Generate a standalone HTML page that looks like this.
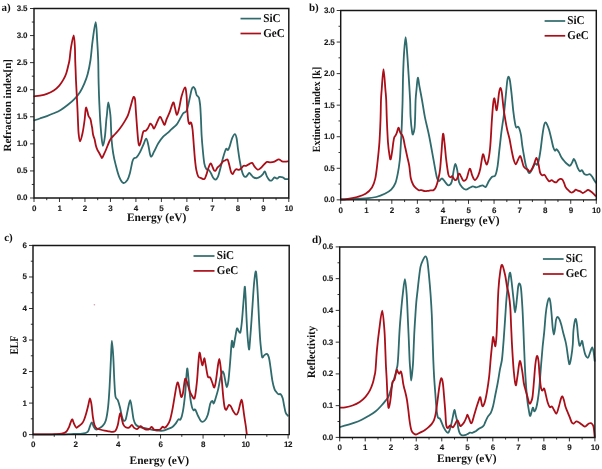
<!DOCTYPE html>
<html><head><meta charset="utf-8"><style>
html,body{margin:0;padding:0;background:#fff;}
svg{display:block;will-change:transform;text-rendering:geometricPrecision;}
.tk{stroke:#2a2a2a;stroke-width:0.95;}
.fr{fill:none;stroke:#161616;stroke-width:1.45;stroke-linejoin:miter;}
.tl{font-family:"Liberation Sans",sans-serif;font-weight:bold;font-size:8px;fill:#1a1a1a;stroke:#1a1a1a;stroke-width:0.1px;letter-spacing:-0.25px;}
.lt{font-family:"Liberation Serif",serif;font-weight:bold;font-size:12px;fill:#111;}
.at{font-family:"Liberation Serif",serif;font-weight:bold;font-size:11.45px;fill:#111;}
.yt{font-family:"Liberation Serif",serif;font-weight:bold;font-size:11px;fill:#111;}
.pl{font-family:"Liberation Serif",serif;font-weight:bold;font-size:11px;fill:#111;}
.cv{stroke-width:1.8;stroke-linejoin:round;stroke-linecap:round;}
.lg{stroke-width:1.7;}
</style></head><body>
<svg width="602" height="469" viewBox="0 0 602 469">
<path d="M34.40,120.30 C35.32,120.00 37.82,119.20 39.90,118.50 C41.98,117.80 44.58,116.97 46.90,116.10 C49.22,115.23 51.50,114.33 53.80,113.30 C56.10,112.27 58.40,111.28 60.70,109.90 C63.00,108.52 65.28,106.85 67.60,105.00 C69.92,103.15 72.52,100.98 74.60,98.80 C76.68,96.62 78.48,94.43 80.10,91.90 C81.72,89.37 83.03,86.60 84.30,83.60 C85.57,80.60 86.67,77.83 87.70,73.90 C88.73,69.97 89.68,65.50 90.50,60.00 C91.32,54.50 91.73,47.20 92.60,40.90 C93.47,34.60 94.93,22.20 95.70,22.20 C96.47,22.20 96.78,34.60 97.20,40.90 C97.62,47.20 97.98,53.88 98.20,60.00 C98.42,66.12 98.37,71.73 98.50,77.60 C98.63,83.47 98.77,88.97 99.00,95.20 C99.23,101.43 99.63,109.87 99.90,115.00 C100.17,120.13 100.33,122.40 100.60,126.00 C100.87,129.60 101.12,133.30 101.50,136.60 C101.88,139.90 102.33,145.80 102.90,145.80 C103.47,145.80 104.33,140.90 104.90,136.60 C105.47,132.30 105.97,123.60 106.30,120.00 C106.63,116.40 106.57,117.95 106.90,115.00 C107.23,112.05 107.72,102.30 108.30,102.30 C108.88,102.30 109.95,110.88 110.40,115.00 C110.85,119.12 110.80,122.83 111.00,127.00 C111.20,131.17 111.23,135.62 111.60,140.00 C111.97,144.38 112.52,149.15 113.20,153.30 C113.88,157.45 114.72,161.02 115.70,164.90 C116.68,168.78 117.85,173.60 119.10,176.60 C120.35,179.60 121.82,182.35 123.20,182.90 C124.58,183.45 126.28,181.52 127.40,179.90 C128.52,178.28 129.07,176.25 129.90,173.20 C130.73,170.15 131.72,164.08 132.40,161.60 C133.08,159.12 133.32,159.00 134.00,158.30 C134.68,157.60 135.52,158.38 136.50,157.40 C137.48,156.42 138.77,154.48 139.90,152.40 C141.03,150.32 142.25,147.20 143.30,144.90 C144.35,142.60 145.37,138.60 146.20,138.60 C147.03,138.60 147.53,141.92 148.30,144.90 C149.07,147.88 149.83,155.40 150.80,156.50 C151.77,157.60 152.85,153.72 154.10,151.50 C155.35,149.28 156.78,145.68 158.30,143.20 C159.82,140.72 161.68,138.27 163.20,136.60 C164.72,134.93 166.00,134.45 167.40,133.20 C168.80,131.95 170.07,130.53 171.60,129.10 C173.13,127.67 175.22,126.27 176.60,124.60 C177.98,122.93 178.80,120.98 179.90,119.10 C181.00,117.22 182.10,114.68 183.20,113.30 C184.30,111.92 185.53,112.75 186.50,110.80 C187.47,108.85 188.17,105.07 189.00,101.60 C189.83,98.13 190.80,92.43 191.50,90.00 C192.20,87.57 192.62,87.17 193.20,87.00 C193.78,86.83 194.53,88.03 195.00,89.00 C195.47,89.97 195.70,91.73 196.00,92.80 C196.30,93.87 196.48,94.82 196.80,95.40 C197.12,95.98 197.55,95.93 197.90,96.30 C198.25,96.67 198.63,96.90 198.90,97.60 C199.17,98.30 199.28,99.17 199.50,100.50 C199.72,101.83 200.02,103.68 200.20,105.60 C200.38,107.52 200.47,109.60 200.60,112.00 C200.73,114.40 200.83,116.17 201.00,120.00 C201.17,123.83 201.30,130.00 201.60,135.00 C201.90,140.00 202.35,145.28 202.80,150.00 C203.25,154.72 203.72,160.12 204.30,163.30 C204.88,166.48 205.55,168.00 206.30,169.10 C207.05,170.20 208.02,169.22 208.80,169.90 C209.58,170.58 210.30,171.95 211.00,173.20 C211.70,174.45 212.25,176.33 213.00,177.40 C213.75,178.47 214.67,179.73 215.50,179.60 C216.33,179.47 217.18,178.48 218.00,176.60 C218.82,174.72 219.58,171.35 220.40,168.30 C221.22,165.25 221.98,161.50 222.90,158.30 C223.82,155.10 225.07,150.48 225.90,149.10 C226.73,147.72 227.28,150.42 227.90,150.00 C228.52,149.58 228.90,148.55 229.60,146.60 C230.30,144.65 231.22,140.38 232.10,138.30 C232.98,136.22 234.15,134.10 234.90,134.10 C235.65,134.10 236.10,135.93 236.60,138.30 C237.10,140.67 237.40,144.70 237.90,148.30 C238.40,151.90 238.98,156.30 239.60,159.90 C240.22,163.50 240.92,167.27 241.60,169.90 C242.28,172.53 242.93,174.58 243.70,175.70 C244.47,176.82 245.28,177.07 246.20,176.60 C247.12,176.13 248.37,173.18 249.20,172.90 C250.03,172.62 250.45,174.15 251.20,174.90 C251.95,175.65 252.73,176.85 253.70,177.40 C254.67,177.95 255.88,178.33 257.00,178.20 C258.12,178.07 259.42,177.28 260.40,176.60 C261.38,175.92 262.15,174.93 262.90,174.10 C263.65,173.27 264.22,171.18 264.90,171.60 C265.58,172.02 266.23,175.17 267.00,176.60 C267.77,178.03 268.67,179.60 269.50,180.20 C270.33,180.80 271.17,180.67 272.00,180.20 C272.83,179.73 273.67,177.67 274.50,177.40 C275.33,177.13 276.17,178.68 277.00,178.60 C277.83,178.52 278.53,177.10 279.50,176.90 C280.47,176.70 281.83,177.03 282.80,177.40 C283.77,177.77 284.43,178.82 285.30,179.10 C286.17,179.38 287.55,179.10 288.00,179.10" fill="none" stroke="#2f6a6c" class="cv"/>
<path d="M34.40,96.30 C35.32,96.20 37.82,96.10 39.90,95.70 C41.98,95.30 44.58,94.77 46.90,93.90 C49.22,93.03 51.73,91.88 53.80,90.50 C55.87,89.12 57.68,87.45 59.30,85.60 C60.92,83.75 62.33,81.47 63.50,79.40 C64.67,77.33 65.50,75.52 66.30,73.20 C67.10,70.88 67.77,67.70 68.30,65.50 C68.83,63.30 69.05,62.98 69.50,60.00 C69.95,57.02 70.30,51.72 71.00,47.60 C71.70,43.48 73.05,35.30 73.70,35.30 C74.35,35.30 74.65,43.48 74.90,47.60 C75.15,51.72 75.08,56.27 75.20,60.00 C75.32,63.73 75.47,66.53 75.60,70.00 C75.73,73.47 75.83,77.13 76.00,80.80 C76.17,84.47 76.42,88.53 76.60,92.00 C76.78,95.47 76.93,98.27 77.10,101.60 C77.27,104.93 77.45,108.60 77.60,112.00 C77.75,115.40 77.83,118.45 78.00,122.00 C78.17,125.55 78.27,130.08 78.60,133.30 C78.93,136.52 79.35,141.30 80.00,141.30 C80.65,141.30 81.73,136.85 82.50,133.30 C83.27,129.75 84.12,123.63 84.60,120.00 C85.08,116.37 85.13,113.60 85.40,111.50 C85.67,109.40 85.85,107.35 86.20,107.40 C86.55,107.45 87.15,110.50 87.50,111.80 C87.85,113.10 88.05,114.35 88.30,115.20 C88.55,116.05 88.70,116.37 89.00,116.90 C89.30,117.43 89.80,117.80 90.10,118.40 C90.40,119.00 90.58,119.57 90.80,120.50 C91.02,121.43 91.17,122.75 91.40,124.00 C91.63,125.25 91.92,126.20 92.20,128.00 C92.48,129.80 92.70,132.92 93.10,134.80 C93.50,136.68 94.15,137.57 94.60,139.30 C95.05,141.03 95.35,143.47 95.80,145.20 C96.25,146.93 96.75,148.45 97.30,149.70 C97.85,150.95 98.48,151.58 99.10,152.70 C99.72,153.82 100.50,155.53 101.00,156.40 C101.50,157.27 101.60,158.27 102.10,157.90 C102.60,157.53 103.30,155.68 104.00,154.20 C104.70,152.72 105.42,151.12 106.30,149.00 C107.18,146.88 108.43,143.37 109.30,141.50 C110.17,139.63 110.52,139.05 111.50,137.80 C112.48,136.55 113.83,135.50 115.20,134.00 C116.57,132.50 118.20,130.78 119.70,128.80 C121.20,126.82 122.83,124.33 124.20,122.10 C125.57,119.87 126.83,118.00 127.90,115.40 C128.97,112.80 129.70,109.48 130.60,106.50 C131.50,103.52 132.57,98.73 133.30,97.50 C134.03,96.27 134.58,97.02 135.00,99.10 C135.42,101.18 135.47,105.42 135.80,110.00 C136.13,114.58 136.58,121.33 137.00,126.60 C137.42,131.87 137.88,138.45 138.30,141.60 C138.72,144.75 139.00,145.78 139.50,145.50 C140.00,145.22 140.67,142.22 141.30,139.90 C141.93,137.58 142.55,133.13 143.30,131.60 C144.05,130.07 145.03,131.25 145.80,130.70 C146.57,130.15 147.15,129.48 147.90,128.30 C148.65,127.12 149.55,124.02 150.30,123.60 C151.05,123.18 151.77,124.97 152.40,125.80 C153.03,126.63 153.40,129.02 154.10,128.60 C154.80,128.18 155.63,125.25 156.60,123.30 C157.57,121.35 158.93,117.32 159.90,116.90 C160.87,116.48 161.62,119.47 162.40,120.80 C163.18,122.13 163.90,125.18 164.60,124.90 C165.30,124.62 165.72,121.32 166.60,119.10 C167.48,116.88 168.80,114.37 169.90,111.60 C171.00,108.83 172.37,103.18 173.20,102.50 C174.03,101.82 174.28,105.43 174.90,107.50 C175.52,109.57 176.20,114.77 176.90,114.90 C177.60,115.03 178.33,111.35 179.10,108.30 C179.87,105.25 180.53,100.07 181.50,96.60 C182.47,93.13 184.07,87.77 184.90,87.50 C185.73,87.23 186.10,91.25 186.50,95.00 C186.90,98.75 187.00,105.67 187.30,110.00 C187.60,114.33 187.93,118.67 188.30,121.00 C188.67,123.33 189.05,123.75 189.50,124.00 C189.95,124.25 190.50,121.67 191.00,122.50 C191.50,123.33 192.03,125.25 192.50,129.00 C192.97,132.75 193.38,139.85 193.80,145.00 C194.22,150.15 194.58,155.75 195.00,159.90 C195.42,164.05 195.75,167.12 196.30,169.90 C196.85,172.68 197.47,175.22 198.30,176.60 C199.13,177.98 200.30,177.78 201.30,178.20 C202.30,178.62 203.47,179.65 204.30,179.10 C205.13,178.55 205.63,176.70 206.30,174.90 C206.97,173.10 207.60,170.18 208.30,168.30 C209.00,166.42 209.87,164.02 210.50,163.60 C211.13,163.18 211.55,164.75 212.10,165.80 C212.65,166.85 213.23,169.08 213.80,169.90 C214.37,170.72 214.87,171.12 215.50,170.70 C216.13,170.28 216.78,168.37 217.60,167.40 C218.42,166.43 219.52,165.87 220.40,164.90 C221.28,163.93 222.07,162.37 222.90,161.60 C223.73,160.83 224.62,160.63 225.40,160.30 C226.18,159.97 226.95,158.83 227.60,159.60 C228.25,160.37 228.75,162.90 229.30,164.90 C229.85,166.90 230.35,170.07 230.90,171.60 C231.45,173.13 231.98,174.25 232.60,174.10 C233.22,173.95 233.93,171.53 234.60,170.70 C235.27,169.87 235.92,169.23 236.60,169.10 C237.28,168.97 237.93,170.03 238.70,169.90 C239.47,169.77 240.37,168.98 241.20,168.30 C242.03,167.62 242.87,166.22 243.70,165.80 C244.53,165.38 245.28,166.08 246.20,165.80 C247.12,165.52 248.22,164.58 249.20,164.10 C250.18,163.62 251.20,162.48 252.10,162.90 C253.00,163.32 253.68,165.48 254.60,166.60 C255.52,167.72 256.63,169.32 257.60,169.60 C258.57,169.88 259.38,169.08 260.40,168.30 C261.42,167.52 262.60,165.97 263.70,164.90 C264.80,163.83 265.88,162.32 267.00,161.90 C268.12,161.48 269.15,162.45 270.40,162.40 C271.65,162.35 273.12,162.10 274.50,161.60 C275.88,161.10 277.45,159.45 278.70,159.40 C279.95,159.35 280.90,160.93 282.00,161.30 C283.10,161.67 284.30,161.60 285.30,161.60 C286.30,161.60 287.55,161.35 288.00,161.30" fill="none" stroke="#aa0f19" class="cv"/>
<line x1="34.00" y1="198.00" x2="34.00" y2="202.00" class="tk"/>
<text x="34.00" y="210.60" class="tl" text-anchor="middle">0</text>
<line x1="46.74" y1="198.00" x2="46.74" y2="200.20" class="tk"/>
<line x1="59.48" y1="198.00" x2="59.48" y2="202.00" class="tk"/>
<text x="59.48" y="210.60" class="tl" text-anchor="middle">1</text>
<line x1="72.22" y1="198.00" x2="72.22" y2="200.20" class="tk"/>
<line x1="84.96" y1="198.00" x2="84.96" y2="202.00" class="tk"/>
<text x="84.96" y="210.60" class="tl" text-anchor="middle">2</text>
<line x1="97.70" y1="198.00" x2="97.70" y2="200.20" class="tk"/>
<line x1="110.44" y1="198.00" x2="110.44" y2="202.00" class="tk"/>
<text x="110.44" y="210.60" class="tl" text-anchor="middle">3</text>
<line x1="123.18" y1="198.00" x2="123.18" y2="200.20" class="tk"/>
<line x1="135.92" y1="198.00" x2="135.92" y2="202.00" class="tk"/>
<text x="135.92" y="210.60" class="tl" text-anchor="middle">4</text>
<line x1="148.66" y1="198.00" x2="148.66" y2="200.20" class="tk"/>
<line x1="161.40" y1="198.00" x2="161.40" y2="202.00" class="tk"/>
<text x="161.40" y="210.60" class="tl" text-anchor="middle">5</text>
<line x1="174.14" y1="198.00" x2="174.14" y2="200.20" class="tk"/>
<line x1="186.88" y1="198.00" x2="186.88" y2="202.00" class="tk"/>
<text x="186.88" y="210.60" class="tl" text-anchor="middle">6</text>
<line x1="199.62" y1="198.00" x2="199.62" y2="200.20" class="tk"/>
<line x1="212.36" y1="198.00" x2="212.36" y2="202.00" class="tk"/>
<text x="212.36" y="210.60" class="tl" text-anchor="middle">7</text>
<line x1="225.10" y1="198.00" x2="225.10" y2="200.20" class="tk"/>
<line x1="237.84" y1="198.00" x2="237.84" y2="202.00" class="tk"/>
<text x="237.84" y="210.60" class="tl" text-anchor="middle">8</text>
<line x1="250.58" y1="198.00" x2="250.58" y2="200.20" class="tk"/>
<line x1="263.32" y1="198.00" x2="263.32" y2="202.00" class="tk"/>
<text x="263.32" y="210.60" class="tl" text-anchor="middle">9</text>
<line x1="276.06" y1="198.00" x2="276.06" y2="200.20" class="tk"/>
<line x1="288.80" y1="198.00" x2="288.80" y2="202.00" class="tk"/>
<text x="288.80" y="210.60" class="tl" text-anchor="middle">10</text>
<line x1="34.00" y1="198.00" x2="30.00" y2="198.00" class="tk"/>
<text x="27.15" y="200.45" class="tl" text-anchor="end">0.0</text>
<line x1="34.00" y1="184.46" x2="31.80" y2="184.46" class="tk"/>
<line x1="34.00" y1="170.93" x2="30.00" y2="170.93" class="tk"/>
<text x="27.15" y="173.38" class="tl" text-anchor="end">0.5</text>
<line x1="34.00" y1="157.39" x2="31.80" y2="157.39" class="tk"/>
<line x1="34.00" y1="143.86" x2="30.00" y2="143.86" class="tk"/>
<text x="27.15" y="146.31" class="tl" text-anchor="end">1.0</text>
<line x1="34.00" y1="130.32" x2="31.80" y2="130.32" class="tk"/>
<line x1="34.00" y1="116.79" x2="30.00" y2="116.79" class="tk"/>
<text x="27.15" y="119.24" class="tl" text-anchor="end">1.5</text>
<line x1="34.00" y1="103.25" x2="31.80" y2="103.25" class="tk"/>
<line x1="34.00" y1="89.71" x2="30.00" y2="89.71" class="tk"/>
<text x="27.15" y="92.16" class="tl" text-anchor="end">2.0</text>
<line x1="34.00" y1="76.18" x2="31.80" y2="76.18" class="tk"/>
<line x1="34.00" y1="62.64" x2="30.00" y2="62.64" class="tk"/>
<text x="27.15" y="65.09" class="tl" text-anchor="end">2.5</text>
<line x1="34.00" y1="49.11" x2="31.80" y2="49.11" class="tk"/>
<line x1="34.00" y1="35.57" x2="30.00" y2="35.57" class="tk"/>
<text x="27.15" y="38.02" class="tl" text-anchor="end">3.0</text>
<line x1="34.00" y1="22.04" x2="31.80" y2="22.04" class="tk"/>
<line x1="34.00" y1="8.50" x2="30.00" y2="8.50" class="tk"/>
<text x="27.15" y="10.95" class="tl" text-anchor="end">3.5</text>
<path d="M34.00,8.50 H288.80 V198.00 H34.00 Z" class="fr"/>
<path d="M341.00,199.50 C342.62,199.43 346.60,199.27 350.70,199.10 C354.80,198.93 361.35,198.85 365.60,198.50 C369.85,198.15 373.00,197.78 376.20,197.00 C379.40,196.22 382.30,195.03 384.80,193.80 C387.30,192.57 389.43,191.37 391.20,189.60 C392.97,187.83 394.27,186.05 395.40,183.20 C396.53,180.35 397.27,176.37 398.00,172.50 C398.73,168.63 399.38,163.75 399.80,160.00 C400.22,156.25 400.27,153.67 400.50,150.00 C400.73,146.33 400.98,142.17 401.20,138.00 C401.42,133.83 401.62,129.67 401.80,125.00 C401.98,120.33 402.17,114.17 402.30,110.00 C402.43,105.83 402.47,105.87 402.60,100.00 C402.73,94.13 402.85,82.73 403.10,74.80 C403.35,66.87 403.68,58.67 404.10,52.40 C404.52,46.13 405.10,37.20 405.60,37.20 C406.10,37.20 406.60,46.13 407.10,52.40 C407.60,58.67 408.10,66.87 408.60,74.80 C409.10,82.73 409.77,92.97 410.10,100.00 C410.43,107.03 410.27,111.67 410.60,117.00 C410.93,122.33 411.68,129.15 412.10,132.00 C412.52,134.85 412.68,134.82 413.10,134.10 C413.52,133.38 414.25,130.88 414.60,127.70 C414.95,124.52 415.03,119.62 415.20,115.00 C415.37,110.38 415.38,104.22 415.60,100.00 C415.82,95.78 416.13,93.40 416.50,89.70 C416.87,86.00 417.30,78.30 417.80,77.80 C418.30,77.30 418.80,83.00 419.50,86.70 C420.20,90.40 421.10,94.93 422.00,100.00 C422.90,105.07 423.70,111.07 424.90,117.10 C426.10,123.13 427.77,129.10 429.20,136.20 C430.63,143.30 432.25,152.93 433.50,159.70 C434.75,166.47 435.82,173.25 436.70,176.80 C437.58,180.35 437.92,180.72 438.80,181.00 C439.68,181.28 440.93,178.32 442.00,178.50 C443.07,178.68 444.13,180.97 445.20,182.10 C446.27,183.23 447.33,185.30 448.40,185.30 C449.47,185.30 450.72,184.58 451.60,182.10 C452.48,179.62 453.07,173.42 453.70,170.40 C454.33,167.38 454.80,164.00 455.40,164.00 C456.00,164.00 456.70,167.38 457.30,170.40 C457.90,173.42 458.18,179.27 459.00,182.10 C459.82,184.93 461.05,186.15 462.20,187.40 C463.35,188.65 464.65,189.53 465.90,189.60 C467.15,189.67 468.53,188.33 469.70,187.80 C470.87,187.27 471.83,186.47 472.90,186.40 C473.97,186.33 475.03,187.40 476.10,187.40 C477.17,187.40 478.23,186.75 479.30,186.40 C480.37,186.05 481.43,185.20 482.50,185.30 C483.57,185.40 484.63,187.72 485.70,187.00 C486.77,186.28 487.83,182.70 488.90,181.00 C489.97,179.30 491.03,177.73 492.10,176.80 C493.17,175.87 494.38,177.18 495.30,175.40 C496.22,173.62 496.93,170.22 497.60,166.10 C498.27,161.98 498.73,155.82 499.30,150.70 C499.87,145.58 500.48,139.68 501.00,135.40 C501.52,131.12 501.92,128.47 502.40,125.00 C502.88,121.53 503.37,119.18 503.90,114.60 C504.43,110.02 505.03,103.18 505.60,97.50 C506.17,91.82 506.82,83.98 507.30,80.50 C507.78,77.02 508.07,76.60 508.50,76.60 C508.93,76.60 509.38,77.58 509.90,80.50 C510.42,83.42 511.03,88.98 511.60,94.10 C512.17,99.22 512.73,106.37 513.30,111.20 C513.87,116.03 514.52,120.40 515.00,123.10 C515.48,125.80 515.72,126.82 516.20,127.40 C516.68,127.98 517.40,126.45 517.90,126.60 C518.40,126.75 518.68,126.88 519.20,128.30 C519.72,129.72 520.48,132.22 521.00,135.10 C521.52,137.98 521.75,141.87 522.30,145.60 C522.85,149.33 523.68,154.08 524.30,157.50 C524.92,160.92 525.33,163.68 526.00,166.10 C526.67,168.52 527.63,170.87 528.30,172.00 C528.97,173.13 529.30,173.47 530.00,172.90 C530.70,172.33 531.65,170.17 532.50,168.60 C533.35,167.03 534.30,164.15 535.10,163.50 C535.90,162.85 536.65,165.42 537.30,164.70 C537.95,163.98 538.43,161.82 539.00,159.20 C539.57,156.58 540.13,152.97 540.70,149.00 C541.27,145.03 541.83,139.38 542.40,135.40 C542.97,131.42 543.58,127.27 544.10,125.10 C544.62,122.93 545.02,122.53 545.50,122.40 C545.98,122.27 546.38,123.00 547.00,124.30 C547.62,125.60 548.48,127.78 549.20,130.20 C549.92,132.62 550.62,135.95 551.30,138.80 C551.98,141.65 552.68,145.32 553.30,147.30 C553.92,149.28 554.43,150.37 555.00,150.70 C555.57,151.03 556.03,149.02 556.70,149.30 C557.37,149.58 558.20,151.03 559.00,152.40 C559.80,153.77 560.52,155.93 561.50,157.50 C562.48,159.07 563.90,160.67 564.90,161.80 C565.90,162.93 566.65,163.65 567.50,164.30 C568.35,164.95 569.23,165.98 570.00,165.70 C570.77,165.42 571.47,163.73 572.10,162.60 C572.73,161.47 573.23,159.03 573.80,158.90 C574.37,158.77 574.85,160.32 575.50,161.80 C576.15,163.28 576.97,166.23 577.70,167.80 C578.43,169.37 579.18,170.78 579.90,171.20 C580.62,171.62 581.23,169.80 582.00,170.30 C582.77,170.80 583.65,173.43 584.50,174.20 C585.35,174.97 586.23,174.90 587.10,174.90 C587.97,174.90 588.90,173.97 589.70,174.20 C590.50,174.43 591.20,175.38 591.90,176.30 C592.60,177.22 593.22,178.62 593.90,179.70 C594.58,180.78 595.65,182.28 596.00,182.80" fill="none" stroke="#2f6a6c" class="cv"/>
<path d="M341.00,199.30 C341.90,199.27 343.72,199.48 346.40,199.10 C349.08,198.72 353.90,197.88 357.10,197.00 C360.30,196.12 363.12,195.40 365.60,193.80 C368.08,192.20 370.40,189.88 372.00,187.40 C373.60,184.92 374.32,182.80 375.20,178.90 C376.08,175.00 376.60,170.05 377.30,164.00 C378.00,157.95 378.87,149.93 379.40,142.60 C379.93,135.27 380.23,127.10 380.50,120.00 C380.77,112.90 380.80,105.05 381.00,100.00 C381.20,94.95 381.28,94.85 381.70,89.70 C382.12,84.55 382.88,69.10 383.50,69.10 C384.12,69.10 384.95,84.55 385.40,89.70 C385.85,94.85 385.95,94.73 386.20,100.00 C386.45,105.27 386.60,114.20 386.90,121.30 C387.20,128.40 387.57,136.92 388.00,142.60 C388.43,148.28 389.05,152.62 389.50,155.40 C389.95,158.18 390.25,160.03 390.70,159.30 C391.15,158.57 391.77,153.82 392.20,151.00 C392.63,148.18 392.95,144.68 393.30,142.40 C393.65,140.12 393.92,138.47 394.30,137.30 C394.68,136.13 395.18,136.15 395.60,135.40 C396.02,134.65 396.33,134.08 396.80,132.80 C397.27,131.52 397.92,128.02 398.40,127.70 C398.88,127.38 399.32,129.95 399.70,130.90 C400.08,131.85 400.27,132.65 400.70,133.40 C401.13,134.15 401.82,134.43 402.30,135.40 C402.78,136.37 403.18,137.50 403.60,139.20 C404.02,140.90 404.43,143.80 404.80,145.60 C405.17,147.40 405.40,148.18 405.80,150.00 C406.20,151.82 406.62,153.82 407.20,156.50 C407.78,159.18 408.70,162.47 409.30,166.10 C409.90,169.73 410.13,175.15 410.80,178.30 C411.47,181.45 412.33,183.27 413.30,185.00 C414.27,186.73 415.63,187.82 416.60,188.70 C417.57,189.58 418.27,190.07 419.10,190.30 C419.93,190.53 420.63,189.95 421.60,190.10 C422.57,190.25 423.80,191.08 424.90,191.20 C426.00,191.32 427.23,190.95 428.20,190.80 C429.17,190.65 429.87,190.38 430.70,190.30 C431.53,190.22 432.43,190.63 433.20,190.30 C433.97,189.97 434.67,189.33 435.30,188.30 C435.93,187.27 436.52,185.63 437.00,184.10 C437.48,182.57 437.78,180.90 438.20,179.10 C438.62,177.30 439.15,175.32 439.50,173.30 C439.85,171.28 439.98,170.33 440.30,167.00 C440.62,163.67 440.95,158.78 441.40,153.30 C441.85,147.82 442.48,135.88 443.00,134.10 C443.52,132.32 443.97,138.33 444.50,142.60 C445.03,146.87 445.55,154.37 446.20,159.70 C446.85,165.03 447.68,171.68 448.40,174.60 C449.12,177.52 449.87,176.92 450.50,177.20 C451.13,177.48 451.48,175.83 452.20,176.30 C452.92,176.77 454.02,179.57 454.80,180.00 C455.58,180.43 456.20,179.97 456.90,178.90 C457.60,177.83 458.28,173.95 459.00,173.60 C459.72,173.25 460.48,175.63 461.20,176.80 C461.92,177.97 462.42,180.25 463.30,180.60 C464.18,180.95 465.43,180.88 466.50,178.90 C467.57,176.92 468.73,169.23 469.70,168.70 C470.67,168.17 471.42,173.82 472.30,175.70 C473.18,177.58 474.02,180.00 475.00,180.00 C475.98,180.00 477.30,177.67 478.20,175.70 C479.10,173.73 479.62,171.75 480.40,168.20 C481.18,164.65 482.12,155.63 482.90,154.40 C483.68,153.17 484.38,159.20 485.10,160.80 C485.82,162.40 486.38,165.97 487.20,164.00 C488.02,162.03 489.22,156.38 490.00,149.00 C490.78,141.62 491.35,127.42 491.90,119.70 C492.45,111.98 492.87,106.25 493.30,102.70 C493.73,99.15 494.10,97.83 494.50,98.40 C494.90,98.97 495.33,104.12 495.70,106.10 C496.07,108.08 496.33,110.87 496.70,110.30 C497.07,109.73 497.50,105.68 497.90,102.70 C498.30,99.72 498.67,94.88 499.10,92.40 C499.53,89.92 500.05,87.80 500.50,87.80 C500.95,87.80 501.30,89.07 501.80,92.40 C502.30,95.73 502.87,102.97 503.50,107.80 C504.13,112.63 504.97,117.67 505.60,121.40 C506.23,125.13 506.65,127.30 507.30,130.20 C507.95,133.10 508.77,135.38 509.50,138.80 C510.23,142.22 510.98,147.15 511.70,150.70 C512.42,154.25 513.12,157.83 513.80,160.10 C514.48,162.37 515.15,164.22 515.80,164.30 C516.45,164.38 516.98,162.02 517.70,160.60 C518.42,159.18 519.42,155.88 520.10,155.80 C520.78,155.72 521.23,158.38 521.80,160.10 C522.37,161.82 522.85,164.68 523.50,166.10 C524.15,167.52 525.00,168.03 525.70,168.60 C526.40,169.17 527.05,168.98 527.70,169.50 C528.35,170.02 528.93,171.70 529.60,171.70 C530.27,171.70 530.98,170.67 531.70,169.50 C532.42,168.33 533.12,166.63 533.90,164.70 C534.68,162.77 535.63,157.97 536.40,157.90 C537.17,157.83 537.87,161.80 538.50,164.30 C539.13,166.80 539.55,171.05 540.20,172.90 C540.85,174.75 541.68,175.07 542.40,175.40 C543.12,175.73 543.73,174.33 544.50,174.90 C545.27,175.47 546.22,177.72 547.00,178.80 C547.78,179.88 548.43,181.17 549.20,181.40 C549.97,181.63 550.83,180.15 551.60,180.20 C552.37,180.25 553.00,181.35 553.80,181.70 C554.60,182.05 555.63,182.58 556.40,182.30 C557.17,182.02 557.68,180.57 558.40,180.00 C559.12,179.43 560.02,178.93 560.70,178.90 C561.38,178.87 561.90,179.03 562.50,179.80 C563.10,180.57 563.80,182.32 564.30,183.50 C564.80,184.68 565.02,185.97 565.50,186.90 C565.98,187.83 566.62,188.45 567.20,189.10 C567.78,189.75 568.42,190.27 569.00,190.80 C569.58,191.33 570.17,192.02 570.70,192.30 C571.23,192.58 571.63,192.68 572.20,192.50 C572.77,192.32 573.50,191.67 574.10,191.20 C574.70,190.73 575.17,189.80 575.80,189.70 C576.43,189.60 577.15,190.32 577.90,190.60 C578.65,190.88 579.48,191.00 580.30,191.40 C581.12,191.80 581.95,192.97 582.80,193.00 C583.65,193.03 584.53,192.12 585.40,191.60 C586.27,191.08 587.15,189.95 588.00,189.90 C588.85,189.85 589.65,190.73 590.50,191.30 C591.35,191.87 592.25,192.53 593.10,193.30 C593.95,194.07 595.18,195.47 595.60,195.90" fill="none" stroke="#aa0f19" class="cv"/>
<line x1="340.70" y1="199.85" x2="340.70" y2="203.85" class="tk"/>
<text x="340.70" y="212.55" class="tl" text-anchor="middle">0</text>
<line x1="353.48" y1="199.85" x2="353.48" y2="202.05" class="tk"/>
<line x1="366.26" y1="199.85" x2="366.26" y2="203.85" class="tk"/>
<text x="366.26" y="212.55" class="tl" text-anchor="middle">1</text>
<line x1="379.04" y1="199.85" x2="379.04" y2="202.05" class="tk"/>
<line x1="391.82" y1="199.85" x2="391.82" y2="203.85" class="tk"/>
<text x="391.82" y="212.55" class="tl" text-anchor="middle">2</text>
<line x1="404.60" y1="199.85" x2="404.60" y2="202.05" class="tk"/>
<line x1="417.38" y1="199.85" x2="417.38" y2="203.85" class="tk"/>
<text x="417.38" y="212.55" class="tl" text-anchor="middle">3</text>
<line x1="430.16" y1="199.85" x2="430.16" y2="202.05" class="tk"/>
<line x1="442.94" y1="199.85" x2="442.94" y2="203.85" class="tk"/>
<text x="442.94" y="212.55" class="tl" text-anchor="middle">4</text>
<line x1="455.72" y1="199.85" x2="455.72" y2="202.05" class="tk"/>
<line x1="468.50" y1="199.85" x2="468.50" y2="203.85" class="tk"/>
<text x="468.50" y="212.55" class="tl" text-anchor="middle">5</text>
<line x1="481.28" y1="199.85" x2="481.28" y2="202.05" class="tk"/>
<line x1="494.06" y1="199.85" x2="494.06" y2="203.85" class="tk"/>
<text x="494.06" y="212.55" class="tl" text-anchor="middle">6</text>
<line x1="506.84" y1="199.85" x2="506.84" y2="202.05" class="tk"/>
<line x1="519.62" y1="199.85" x2="519.62" y2="203.85" class="tk"/>
<text x="519.62" y="212.55" class="tl" text-anchor="middle">7</text>
<line x1="532.40" y1="199.85" x2="532.40" y2="202.05" class="tk"/>
<line x1="545.18" y1="199.85" x2="545.18" y2="203.85" class="tk"/>
<text x="545.18" y="212.55" class="tl" text-anchor="middle">8</text>
<line x1="557.96" y1="199.85" x2="557.96" y2="202.05" class="tk"/>
<line x1="570.74" y1="199.85" x2="570.74" y2="203.85" class="tk"/>
<text x="570.74" y="212.55" class="tl" text-anchor="middle">9</text>
<line x1="583.52" y1="199.85" x2="583.52" y2="202.05" class="tk"/>
<line x1="596.30" y1="199.85" x2="596.30" y2="203.85" class="tk"/>
<text x="596.30" y="212.55" class="tl" text-anchor="middle">10</text>
<line x1="340.70" y1="199.85" x2="336.70" y2="199.85" class="tk"/>
<text x="334.35" y="202.30" class="tl" text-anchor="end">0.0</text>
<line x1="340.70" y1="184.07" x2="338.50" y2="184.07" class="tk"/>
<line x1="340.70" y1="168.29" x2="336.70" y2="168.29" class="tk"/>
<text x="334.35" y="170.74" class="tl" text-anchor="end">0.5</text>
<line x1="340.70" y1="152.51" x2="338.50" y2="152.51" class="tk"/>
<line x1="340.70" y1="136.73" x2="336.70" y2="136.73" class="tk"/>
<text x="334.35" y="139.18" class="tl" text-anchor="end">1.0</text>
<line x1="340.70" y1="120.95" x2="338.50" y2="120.95" class="tk"/>
<line x1="340.70" y1="105.17" x2="336.70" y2="105.17" class="tk"/>
<text x="334.35" y="107.62" class="tl" text-anchor="end">1.5</text>
<line x1="340.70" y1="89.40" x2="338.50" y2="89.40" class="tk"/>
<line x1="340.70" y1="73.62" x2="336.70" y2="73.62" class="tk"/>
<text x="334.35" y="76.07" class="tl" text-anchor="end">2.0</text>
<line x1="340.70" y1="57.84" x2="338.50" y2="57.84" class="tk"/>
<line x1="340.70" y1="42.06" x2="336.70" y2="42.06" class="tk"/>
<text x="334.35" y="44.51" class="tl" text-anchor="end">2.5</text>
<line x1="340.70" y1="26.28" x2="338.50" y2="26.28" class="tk"/>
<line x1="340.70" y1="10.50" x2="336.70" y2="10.50" class="tk"/>
<text x="334.35" y="12.95" class="tl" text-anchor="end">3.0</text>
<path d="M340.70,10.50 H596.30 V199.85 H340.70 Z" class="fr"/>
<path d="M33.50,434.40 C37.92,434.40 53.80,434.45 60.00,434.40 C66.20,434.35 67.03,434.23 70.70,434.10 C74.37,433.97 79.17,433.98 82.00,433.60 C84.83,433.22 86.37,433.03 87.70,431.80 C89.03,430.57 89.32,427.78 90.00,426.20 C90.68,424.62 91.17,422.20 91.80,422.30 C92.43,422.40 93.08,425.60 93.80,426.80 C94.52,428.00 95.23,429.23 96.10,429.50 C96.97,429.77 97.95,428.95 99.00,428.40 C100.05,427.85 101.27,427.52 102.40,426.20 C103.53,424.88 104.85,423.72 105.80,420.50 C106.75,417.28 107.47,412.55 108.10,406.90 C108.73,401.25 109.12,394.90 109.60,386.60 C110.08,378.30 110.62,364.72 111.00,357.10 C111.38,349.48 111.52,340.90 111.90,340.90 C112.28,340.90 112.88,350.25 113.30,357.10 C113.72,363.95 114.03,375.40 114.40,382.00 C114.77,388.60 114.93,393.68 115.50,396.70 C116.07,399.72 117.05,398.30 117.80,400.10 C118.55,401.90 119.33,404.85 120.00,407.50 C120.67,410.15 121.23,413.83 121.80,416.00 C122.37,418.17 122.75,419.93 123.40,420.50 C124.05,421.07 124.95,421.28 125.70,419.40 C126.45,417.52 127.15,412.42 127.90,409.20 C128.65,405.98 129.52,400.10 130.20,400.10 C130.88,400.10 131.43,405.98 132.00,409.20 C132.57,412.42 132.97,416.83 133.60,419.40 C134.23,421.97 134.87,423.37 135.80,424.60 C136.73,425.83 138.07,426.28 139.20,426.80 C140.33,427.32 141.47,427.43 142.60,427.70 C143.73,427.97 144.87,428.17 146.00,428.40 C147.13,428.63 148.08,428.83 149.40,429.10 C150.72,429.37 152.38,429.73 153.90,430.00 C155.42,430.27 156.98,430.58 158.50,430.70 C160.02,430.82 161.50,430.97 163.00,430.70 C164.50,430.43 166.00,429.67 167.50,429.10 C169.00,428.53 170.68,428.17 172.00,427.30 C173.32,426.43 174.33,425.22 175.40,423.90 C176.47,422.58 177.53,420.15 178.40,419.40 C179.27,418.65 179.85,420.73 180.60,419.40 C181.35,418.07 182.13,415.75 182.90,411.40 C183.67,407.05 184.60,399.33 185.20,393.30 C185.80,387.27 186.13,379.33 186.50,375.20 C186.87,371.07 187.05,367.73 187.40,368.50 C187.75,369.27 188.15,375.10 188.60,379.80 C189.05,384.50 189.55,392.18 190.10,396.70 C190.65,401.22 191.33,404.63 191.90,406.90 C192.47,409.17 192.93,409.85 193.50,410.30 C194.07,410.75 194.53,408.65 195.30,409.60 C196.07,410.55 197.08,414.00 198.10,416.00 C199.12,418.00 200.28,420.85 201.40,421.60 C202.52,422.35 203.73,421.63 204.80,420.50 C205.87,419.37 206.88,417.63 207.80,414.80 C208.72,411.97 209.53,405.80 210.30,403.50 C211.07,401.20 211.83,401.02 212.40,401.00 C212.97,400.98 213.15,403.90 213.70,403.40 C214.25,402.90 214.95,400.38 215.70,398.00 C216.45,395.62 217.45,392.28 218.20,389.10 C218.95,385.92 219.52,381.80 220.20,378.90 C220.88,376.00 221.68,372.55 222.30,371.70 C222.92,370.85 223.40,372.27 223.90,373.80 C224.40,375.33 224.82,378.68 225.30,380.90 C225.78,383.12 226.28,387.10 226.80,387.10 C227.32,387.10 227.85,385.00 228.40,380.90 C228.95,376.80 229.58,368.63 230.10,362.50 C230.62,356.37 231.13,347.68 231.50,344.10 C231.87,340.52 231.98,340.47 232.30,341.00 C232.62,341.53 232.95,347.68 233.40,347.30 C233.85,346.92 234.42,341.80 235.00,338.70 C235.58,335.60 236.33,330.05 236.90,328.70 C237.47,327.35 237.83,329.95 238.40,330.60 C238.97,331.25 239.75,333.82 240.30,332.60 C240.85,331.38 241.25,327.40 241.70,323.30 C242.15,319.20 242.58,313.12 243.00,308.00 C243.42,302.88 243.88,296.12 244.20,292.60 C244.52,289.08 244.65,285.93 244.90,286.90 C245.15,287.87 245.43,293.28 245.70,298.40 C245.97,303.52 246.18,311.20 246.50,317.60 C246.82,324.00 247.18,331.48 247.60,336.80 C248.02,342.12 248.62,348.63 249.00,349.50 C249.38,350.37 249.52,346.37 249.90,342.00 C250.28,337.63 250.85,329.62 251.30,323.30 C251.75,316.98 252.13,310.82 252.60,304.10 C253.07,297.38 253.58,288.43 254.10,283.00 C254.62,277.57 255.25,272.13 255.70,271.50 C256.15,270.87 256.42,274.72 256.80,279.20 C257.18,283.68 257.62,291.37 258.00,298.40 C258.38,305.43 258.73,314.47 259.10,321.40 C259.47,328.33 259.85,335.20 260.20,340.00 C260.55,344.80 260.87,347.30 261.20,350.20 C261.53,353.10 261.70,356.53 262.20,357.40 C262.70,358.27 263.42,355.98 264.20,355.40 C264.98,354.82 266.12,353.57 266.90,353.90 C267.68,354.23 268.32,355.28 268.90,357.40 C269.48,359.52 269.82,362.68 270.40,366.60 C270.98,370.52 271.72,377.15 272.40,380.90 C273.08,384.65 273.82,387.22 274.50,389.10 C275.18,390.98 275.82,391.35 276.50,392.20 C277.18,393.05 277.92,393.87 278.60,394.20 C279.28,394.53 279.92,393.52 280.60,394.20 C281.28,394.88 282.12,396.42 282.70,398.30 C283.28,400.18 283.60,403.10 284.10,405.50 C284.60,407.90 285.08,411.00 285.70,412.70 C286.32,414.40 287.45,415.20 287.80,415.70" fill="none" stroke="#2f6a6c" class="cv"/>
<path d="M33.50,434.30 C36.25,434.30 46.43,434.32 50.00,434.30 C53.57,434.28 52.95,434.32 54.90,434.20 C56.85,434.08 59.82,434.00 61.70,433.60 C63.58,433.20 65.00,432.85 66.20,431.80 C67.40,430.75 68.15,428.88 68.90,427.30 C69.65,425.72 70.13,423.62 70.70,422.30 C71.27,420.98 71.73,419.13 72.30,419.40 C72.87,419.67 73.42,422.52 74.10,423.90 C74.78,425.28 75.65,427.32 76.40,427.70 C77.15,428.08 77.73,426.83 78.60,426.20 C79.47,425.57 80.73,424.85 81.60,423.90 C82.47,422.95 83.05,422.20 83.80,420.50 C84.55,418.80 85.33,416.33 86.10,413.70 C86.87,411.07 87.75,407.27 88.40,404.70 C89.05,402.13 89.48,398.30 90.00,398.30 C90.52,398.30 91.02,401.57 91.50,404.70 C91.98,407.83 92.40,413.72 92.90,417.10 C93.40,420.48 93.87,423.12 94.50,425.00 C95.13,426.88 95.77,427.65 96.70,428.40 C97.63,429.15 98.77,429.12 100.10,429.50 C101.43,429.88 103.18,430.38 104.70,430.70 C106.22,431.02 107.88,431.22 109.20,431.40 C110.52,431.58 111.55,431.92 112.60,431.80 C113.65,431.68 114.63,431.83 115.50,430.70 C116.37,429.57 117.18,427.27 117.80,425.00 C118.42,422.73 118.75,419.05 119.20,417.10 C119.65,415.15 120.05,412.92 120.50,413.30 C120.95,413.68 121.42,417.52 121.90,419.40 C122.38,421.28 122.77,423.28 123.40,424.60 C124.03,425.92 124.77,426.78 125.70,427.30 C126.63,427.82 127.98,428.08 129.00,427.70 C130.02,427.32 130.97,425.00 131.80,425.00 C132.63,425.00 133.13,427.02 134.00,427.70 C134.87,428.38 135.93,429.35 137.00,429.10 C138.07,428.85 139.47,426.43 140.40,426.20 C141.33,425.97 141.67,427.15 142.60,427.70 C143.53,428.25 144.87,429.27 146.00,429.50 C147.13,429.73 148.45,429.55 149.40,429.10 C150.35,428.65 150.95,426.73 151.70,426.80 C152.45,426.87 152.97,428.97 153.90,429.50 C154.83,430.03 156.23,430.00 157.30,430.00 C158.37,430.00 159.43,430.03 160.30,429.50 C161.17,428.97 161.75,427.10 162.50,426.80 C163.25,426.50 163.97,428.00 164.80,427.70 C165.63,427.40 166.60,426.38 167.50,425.00 C168.40,423.62 169.37,422.03 170.20,419.40 C171.03,416.77 171.73,413.17 172.50,409.20 C173.27,405.23 174.12,399.57 174.80,395.60 C175.48,391.63 176.08,387.58 176.60,385.40 C177.12,383.22 177.45,382.12 177.90,382.50 C178.35,382.88 178.77,385.33 179.30,387.70 C179.83,390.07 180.50,395.77 181.10,396.70 C181.70,397.63 182.33,395.75 182.90,393.30 C183.47,390.85 184.05,384.45 184.50,382.00 C184.95,379.55 185.12,378.40 185.60,378.60 C186.08,378.80 186.72,381.12 187.40,383.20 C188.08,385.28 188.95,389.03 189.70,391.10 C190.45,393.17 191.07,394.47 191.90,395.60 C192.73,396.73 193.87,400.17 194.70,397.90 C195.53,395.63 196.30,387.67 196.90,382.00 C197.50,376.33 197.85,368.80 198.30,363.90 C198.75,359.00 199.08,352.97 199.60,352.60 C200.12,352.23 200.90,359.62 201.40,361.70 C201.90,363.78 202.13,365.67 202.60,365.10 C203.07,364.53 203.72,358.50 204.20,358.30 C204.68,358.10 204.90,360.88 205.50,363.90 C206.10,366.92 207.02,374.13 207.80,376.40 C208.58,378.67 209.43,376.40 210.20,377.50 C210.97,378.60 211.72,381.33 212.40,383.00 C213.08,384.67 213.72,387.85 214.30,387.50 C214.88,387.15 215.32,384.38 215.90,380.90 C216.48,377.42 217.23,370.27 217.80,366.60 C218.37,362.93 218.83,358.90 219.30,358.90 C219.77,358.90 220.17,362.93 220.60,366.60 C221.03,370.27 221.45,375.78 221.90,380.90 C222.35,386.02 222.83,392.87 223.30,397.30 C223.77,401.73 224.18,405.45 224.70,407.50 C225.22,409.55 225.72,410.00 226.40,409.60 C227.08,409.20 228.05,405.62 228.80,405.10 C229.55,404.58 230.12,405.42 230.90,406.50 C231.68,407.58 232.62,410.23 233.50,411.60 C234.38,412.97 235.42,414.63 236.20,414.70 C236.98,414.77 237.52,413.88 238.20,412.00 C238.88,410.12 239.72,405.43 240.30,403.40 C240.88,401.37 241.30,399.62 241.70,399.80 C242.10,399.98 242.28,401.85 242.70,404.50 C243.12,407.15 243.68,412.12 244.20,415.70 C244.72,419.28 245.37,422.90 245.80,426.00 C246.23,429.10 246.63,432.92 246.80,434.30" fill="none" stroke="#aa0f19" class="cv"/>
<line x1="33.00" y1="434.60" x2="33.00" y2="438.60" class="tk"/>
<text x="33.00" y="447.10" class="tl" text-anchor="middle">0</text>
<line x1="54.26" y1="434.60" x2="54.26" y2="436.80" class="tk"/>
<line x1="75.52" y1="434.60" x2="75.52" y2="438.60" class="tk"/>
<text x="75.52" y="447.10" class="tl" text-anchor="middle">2</text>
<line x1="96.78" y1="434.60" x2="96.78" y2="436.80" class="tk"/>
<line x1="118.03" y1="434.60" x2="118.03" y2="438.60" class="tk"/>
<text x="118.03" y="447.10" class="tl" text-anchor="middle">4</text>
<line x1="139.29" y1="434.60" x2="139.29" y2="436.80" class="tk"/>
<line x1="160.55" y1="434.60" x2="160.55" y2="438.60" class="tk"/>
<text x="160.55" y="447.10" class="tl" text-anchor="middle">6</text>
<line x1="181.81" y1="434.60" x2="181.81" y2="436.80" class="tk"/>
<line x1="203.07" y1="434.60" x2="203.07" y2="438.60" class="tk"/>
<text x="203.07" y="447.10" class="tl" text-anchor="middle">8</text>
<line x1="224.33" y1="434.60" x2="224.33" y2="436.80" class="tk"/>
<line x1="245.58" y1="434.60" x2="245.58" y2="438.60" class="tk"/>
<text x="245.58" y="447.10" class="tl" text-anchor="middle">10</text>
<line x1="266.84" y1="434.60" x2="266.84" y2="436.80" class="tk"/>
<line x1="288.10" y1="434.60" x2="288.10" y2="438.60" class="tk"/>
<text x="288.10" y="447.10" class="tl" text-anchor="middle">12</text>
<line x1="33.00" y1="434.60" x2="29.00" y2="434.60" class="tk"/>
<text x="26.75" y="437.05" class="tl" text-anchor="end">0</text>
<line x1="33.00" y1="418.84" x2="30.80" y2="418.84" class="tk"/>
<line x1="33.00" y1="403.08" x2="29.00" y2="403.08" class="tk"/>
<text x="26.75" y="405.53" class="tl" text-anchor="end">1</text>
<line x1="33.00" y1="387.31" x2="30.80" y2="387.31" class="tk"/>
<line x1="33.00" y1="371.55" x2="29.00" y2="371.55" class="tk"/>
<text x="26.75" y="374.00" class="tl" text-anchor="end">2</text>
<line x1="33.00" y1="355.79" x2="30.80" y2="355.79" class="tk"/>
<line x1="33.00" y1="340.02" x2="29.00" y2="340.02" class="tk"/>
<text x="26.75" y="342.47" class="tl" text-anchor="end">3</text>
<line x1="33.00" y1="324.26" x2="30.80" y2="324.26" class="tk"/>
<line x1="33.00" y1="308.50" x2="29.00" y2="308.50" class="tk"/>
<text x="26.75" y="310.95" class="tl" text-anchor="end">4</text>
<line x1="33.00" y1="292.74" x2="30.80" y2="292.74" class="tk"/>
<line x1="33.00" y1="276.98" x2="29.00" y2="276.98" class="tk"/>
<text x="26.75" y="279.43" class="tl" text-anchor="end">5</text>
<line x1="33.00" y1="261.21" x2="30.80" y2="261.21" class="tk"/>
<line x1="33.00" y1="245.45" x2="29.00" y2="245.45" class="tk"/>
<text x="26.75" y="247.90" class="tl" text-anchor="end">6</text>
<path d="M33.00,245.45 H289.20 V434.60 H33.00 Z" class="fr"/>
<path d="M340.20,427.00 C341.28,426.68 344.42,425.78 346.70,425.10 C348.98,424.42 351.48,423.75 353.90,422.90 C356.32,422.05 358.78,421.13 361.20,420.00 C363.62,418.87 365.98,417.55 368.40,416.10 C370.82,414.65 373.52,413.07 375.70,411.30 C377.88,409.53 379.82,407.32 381.50,405.50 C383.18,403.68 384.60,401.97 385.80,400.40 C387.00,398.83 387.83,398.00 388.70,396.10 C389.57,394.20 390.37,391.18 391.00,389.00 C391.63,386.82 392.00,384.67 392.50,383.00 C393.00,381.33 393.50,380.50 394.00,379.00 C394.50,377.50 395.08,375.57 395.50,374.00 C395.92,372.43 396.17,371.08 396.50,369.60 C396.83,368.12 397.20,367.53 397.50,365.10 C397.80,362.67 397.95,360.87 398.30,355.00 C398.65,349.13 399.12,337.40 399.60,329.90 C400.08,322.40 400.68,315.85 401.20,310.00 C401.72,304.15 402.08,299.95 402.70,294.80 C403.32,289.65 404.23,279.10 404.90,279.10 C405.57,279.10 406.20,287.98 406.70,294.80 C407.20,301.62 407.55,312.47 407.90,320.00 C408.25,327.53 408.52,333.33 408.80,340.00 C409.08,346.67 409.35,355.07 409.60,360.00 C409.85,364.93 410.03,366.18 410.30,369.60 C410.57,373.02 410.83,380.50 411.20,380.50 C411.57,380.50 412.17,373.02 412.50,369.60 C412.83,366.18 412.92,365.77 413.20,360.00 C413.48,354.23 413.83,342.50 414.20,335.00 C414.57,327.50 415.05,320.47 415.40,315.00 C415.75,309.53 415.93,306.32 416.30,302.20 C416.67,298.08 417.13,294.52 417.60,290.30 C418.07,286.08 418.60,280.88 419.10,276.90 C419.60,272.92 419.98,269.15 420.60,266.40 C421.22,263.65 422.00,262.08 422.80,260.40 C423.60,258.72 424.65,256.30 425.40,256.30 C426.15,256.30 426.68,256.97 427.30,260.40 C427.92,263.83 428.55,271.17 429.10,276.90 C429.65,282.63 430.15,288.45 430.60,294.80 C431.05,301.15 431.47,307.47 431.80,315.00 C432.13,322.53 432.35,332.50 432.60,340.00 C432.85,347.50 433.05,353.90 433.30,360.00 C433.55,366.10 433.77,371.05 434.10,376.60 C434.43,382.15 434.88,387.75 435.30,393.30 C435.72,398.85 436.17,405.88 436.60,409.90 C437.03,413.92 437.35,415.95 437.90,417.40 C438.45,418.85 439.28,417.77 439.90,418.60 C440.52,419.43 440.90,420.80 441.60,422.40 C442.30,424.00 443.27,426.62 444.10,428.20 C444.93,429.78 445.85,431.20 446.60,431.90 C447.35,432.60 447.92,433.28 448.60,432.40 C449.28,431.52 449.98,429.23 450.70,426.60 C451.42,423.97 452.28,419.38 452.90,416.60 C453.52,413.82 453.92,410.08 454.40,409.90 C454.88,409.72 455.32,413.55 455.80,415.50 C456.28,417.45 456.88,419.47 457.30,421.60 C457.72,423.73 457.92,426.42 458.30,428.30 C458.68,430.18 459.10,431.80 459.60,432.90 C460.10,434.00 460.63,434.50 461.30,434.90 C461.97,435.30 462.83,435.30 463.60,435.30 C464.37,435.30 465.18,435.13 465.90,434.90 C466.62,434.67 467.23,434.28 467.90,433.90 C468.57,433.52 469.18,432.77 469.90,432.60 C470.62,432.43 471.48,433.02 472.20,432.90 C472.92,432.78 473.53,432.23 474.20,431.90 C474.87,431.57 475.53,431.33 476.20,430.90 C476.87,430.47 477.53,429.78 478.20,429.30 C478.87,428.82 479.53,428.38 480.20,428.00 C480.87,427.62 481.58,427.45 482.20,427.00 C482.82,426.55 483.38,426.13 483.90,425.30 C484.42,424.47 484.62,423.48 485.30,422.00 C485.98,420.52 487.08,417.92 488.00,416.40 C488.92,414.88 489.95,414.63 490.80,412.90 C491.65,411.17 492.33,409.07 493.10,406.00 C493.87,402.93 494.63,398.33 495.40,394.50 C496.17,390.67 496.93,387.22 497.70,383.00 C498.47,378.78 499.30,373.03 500.00,369.20 C500.70,365.37 501.40,363.47 501.90,360.00 C502.40,356.53 502.68,352.07 503.00,348.40 C503.32,344.73 503.45,342.88 503.80,338.00 C504.15,333.12 504.67,325.45 505.10,319.10 C505.53,312.75 505.92,305.67 506.40,299.90 C506.88,294.13 507.35,288.98 508.00,284.50 C508.65,280.02 509.40,270.75 510.30,273.00 C511.20,275.25 512.60,291.43 513.40,298.00 C514.20,304.57 514.50,312.40 515.10,312.40 C515.70,312.40 516.48,302.32 517.00,298.00 C517.52,293.68 517.78,288.90 518.20,286.50 C518.62,284.10 519.03,283.28 519.50,283.60 C519.97,283.92 520.52,284.40 521.00,288.40 C521.48,292.40 522.02,301.20 522.40,307.60 C522.78,314.00 523.03,320.57 523.30,326.80 C523.57,333.03 523.65,336.78 524.00,345.00 C524.35,353.22 524.87,367.08 525.40,376.10 C525.93,385.12 526.58,393.15 527.20,399.10 C527.82,405.05 528.57,409.02 529.10,411.80 C529.63,414.58 529.78,416.48 530.40,415.80 C531.02,415.12 532.15,408.43 532.80,407.70 C533.45,406.97 533.73,411.35 534.30,411.40 C534.87,411.45 535.62,409.90 536.20,408.00 C536.78,406.10 537.28,403.33 537.80,400.00 C538.32,396.67 538.77,393.67 539.30,388.00 C539.83,382.33 540.45,372.83 541.00,366.00 C541.55,359.17 542.07,352.63 542.60,347.00 C543.13,341.37 543.68,337.65 544.20,332.20 C544.72,326.75 545.20,319.02 545.70,314.30 C546.20,309.58 546.65,306.58 547.20,303.90 C547.75,301.22 548.47,298.45 549.00,298.20 C549.53,297.95 549.97,299.72 550.40,302.40 C550.83,305.08 551.22,310.07 551.60,314.30 C551.98,318.53 552.32,324.43 552.70,327.80 C553.08,331.17 553.50,334.50 553.90,334.50 C554.30,334.50 554.73,330.28 555.10,327.80 C555.47,325.32 555.68,321.40 556.10,319.60 C556.52,317.80 557.02,317.00 557.60,317.00 C558.18,317.00 558.98,318.30 559.60,319.60 C560.22,320.90 560.72,322.70 561.30,324.80 C561.88,326.90 562.47,329.72 563.10,332.20 C563.73,334.68 564.53,337.35 565.10,339.70 C565.67,342.05 565.92,342.77 566.50,346.30 C567.08,349.83 568.07,357.95 568.60,360.90 C569.13,363.85 569.25,364.70 569.70,364.00 C570.15,363.30 570.78,360.00 571.30,356.70 C571.82,353.40 572.43,348.65 572.80,344.20 C573.17,339.75 573.05,334.18 573.50,330.00 C573.95,325.82 574.92,319.97 575.50,319.10 C576.08,318.23 576.57,321.87 577.00,324.80 C577.43,327.73 577.68,333.25 578.10,336.70 C578.52,340.15 579.00,344.43 579.50,345.50 C580.00,346.57 580.65,343.85 581.10,343.10 C581.55,342.35 581.82,340.35 582.20,341.00 C582.58,341.65 582.88,344.73 583.40,347.00 C583.92,349.27 584.53,352.82 585.30,354.60 C586.07,356.38 587.20,358.05 588.00,357.70 C588.80,357.35 589.40,354.23 590.10,352.50 C590.80,350.77 591.60,347.30 592.20,347.30 C592.80,347.30 593.28,350.23 593.70,352.50 C594.12,354.77 594.53,359.50 594.70,360.90" fill="none" stroke="#2f6a6c" class="cv"/>
<path d="M340.20,407.70 C341.03,407.65 343.15,407.77 345.20,407.40 C347.25,407.03 350.08,406.42 352.50,405.50 C354.92,404.58 357.53,403.35 359.70,401.90 C361.87,400.45 363.80,398.73 365.50,396.80 C367.20,394.87 368.68,392.60 369.90,390.30 C371.12,388.00 372.03,385.42 372.80,383.00 C373.57,380.58 374.05,377.97 374.50,375.80 C374.95,373.63 375.08,374.42 375.50,370.00 C375.92,365.58 376.38,355.98 377.00,349.30 C377.62,342.62 378.33,336.33 379.20,329.90 C380.07,323.47 381.33,310.70 382.20,310.70 C383.07,310.70 383.88,323.47 384.40,329.90 C384.92,336.33 385.05,343.45 385.30,349.30 C385.55,355.15 385.67,360.02 385.90,365.00 C386.13,369.98 386.45,374.20 386.70,379.20 C386.95,384.20 387.18,390.87 387.40,395.00 C387.62,399.13 387.78,401.83 388.00,404.00 C388.22,406.17 388.38,408.12 388.70,408.00 C389.02,407.88 389.53,405.28 389.90,403.30 C390.27,401.32 390.62,398.48 390.90,396.10 C391.18,393.72 391.35,391.28 391.60,389.00 C391.85,386.72 392.12,383.72 392.40,382.40 C392.68,381.08 392.93,381.63 393.30,381.10 C393.67,380.57 394.22,380.27 394.60,379.20 C394.98,378.13 395.23,376.25 395.60,374.70 C395.97,373.15 396.43,370.38 396.80,369.90 C397.17,369.42 397.42,371.15 397.80,371.80 C398.18,372.45 398.62,373.85 399.10,373.80 C399.58,373.75 400.28,371.57 400.70,371.50 C401.12,371.43 401.32,372.33 401.60,373.40 C401.88,374.47 402.13,376.18 402.40,377.90 C402.67,379.62 402.90,381.98 403.20,383.70 C403.50,385.42 403.90,386.98 404.20,388.20 C404.50,389.42 404.57,389.20 405.00,391.00 C405.43,392.80 406.25,395.85 406.80,399.00 C407.35,402.15 407.82,406.13 408.30,409.90 C408.78,413.67 409.20,418.27 409.70,421.60 C410.20,424.93 410.70,427.97 411.30,429.90 C411.90,431.83 412.55,432.43 413.30,433.20 C414.05,433.97 414.97,434.45 415.80,434.50 C416.63,434.55 417.33,433.93 418.30,433.50 C419.27,433.07 420.48,432.50 421.60,431.90 C422.72,431.30 423.88,430.65 425.00,429.90 C426.12,429.15 427.20,428.37 428.30,427.40 C429.40,426.43 430.63,425.35 431.60,424.10 C432.57,422.85 433.40,421.72 434.10,419.90 C434.80,418.08 435.25,416.25 435.80,413.20 C436.35,410.15 436.85,405.75 437.40,401.60 C437.95,397.45 438.60,391.77 439.10,388.30 C439.60,384.83 439.98,382.47 440.40,380.80 C440.82,379.13 441.18,377.88 441.60,378.30 C442.02,378.72 442.48,380.25 442.90,383.30 C443.32,386.35 443.70,391.88 444.10,396.60 C444.50,401.32 444.95,406.87 445.30,411.60 C445.65,416.33 445.80,422.27 446.20,425.00 C446.60,427.73 447.23,427.73 447.70,428.00 C448.17,428.27 448.57,427.05 449.00,426.60 C449.43,426.15 449.87,425.30 450.30,425.30 C450.73,425.30 451.15,426.27 451.60,426.60 C452.05,426.93 452.43,427.68 453.00,427.30 C453.57,426.92 454.33,425.42 455.00,424.30 C455.67,423.18 456.45,421.05 457.00,420.60 C457.55,420.15 457.75,420.70 458.30,421.60 C458.85,422.50 459.63,425.50 460.30,426.00 C460.97,426.50 461.63,425.27 462.30,424.60 C462.97,423.93 463.63,423.15 464.30,422.00 C464.97,420.85 465.77,418.90 466.30,417.70 C466.83,416.50 467.00,414.55 467.50,414.80 C468.00,415.05 468.73,417.83 469.30,419.20 C469.87,420.57 470.42,422.53 470.90,423.00 C471.38,423.47 471.72,423.10 472.20,422.00 C472.68,420.90 473.08,418.87 473.80,416.40 C474.52,413.93 475.67,409.88 476.50,407.20 C477.33,404.52 478.15,401.95 478.80,400.30 C479.45,398.65 479.82,396.35 480.40,397.30 C480.98,398.25 481.60,405.12 482.30,406.00 C483.00,406.88 483.83,404.90 484.60,402.60 C485.37,400.30 486.13,396.62 486.90,392.20 C487.67,387.78 488.55,381.87 489.20,376.10 C489.85,370.33 490.30,362.98 490.80,357.60 C491.30,352.22 491.82,347.25 492.20,343.80 C492.58,340.35 492.72,337.08 493.10,336.90 C493.48,336.72 494.12,341.18 494.50,342.70 C494.88,344.22 495.07,347.12 495.40,346.00 C495.73,344.88 496.20,340.33 496.50,336.00 C496.80,331.67 496.88,327.67 497.20,320.00 C497.52,312.33 497.88,298.15 498.40,290.00 C498.92,281.85 499.67,275.27 500.30,271.10 C500.93,266.93 501.40,264.35 502.20,265.00 C503.00,265.65 504.30,271.42 505.10,275.00 C505.90,278.58 506.37,283.15 507.00,286.50 C507.63,289.85 508.35,291.58 508.90,295.10 C509.45,298.62 509.92,302.12 510.30,307.60 C510.68,313.08 510.88,321.20 511.20,328.00 C511.52,334.80 511.77,341.15 512.20,348.40 C512.63,355.65 513.22,365.35 513.80,371.50 C514.38,377.65 515.08,384.53 515.70,385.30 C516.32,386.07 516.82,380.13 517.50,376.10 C518.18,372.07 519.03,362.07 519.80,361.10 C520.57,360.13 521.43,366.65 522.10,370.30 C522.77,373.95 523.25,379.82 523.80,383.00 C524.35,386.18 524.83,387.28 525.40,389.40 C525.97,391.52 526.55,393.38 527.20,395.70 C527.85,398.02 528.67,402.25 529.30,403.30 C529.93,404.35 530.47,403.05 531.00,402.00 C531.53,400.95 532.02,400.33 532.50,397.00 C532.98,393.67 533.43,387.33 533.90,382.00 C534.37,376.67 534.80,369.33 535.30,365.00 C535.80,360.67 536.37,356.67 536.90,356.00 C537.43,355.33 538.05,357.75 538.50,361.00 C538.95,364.25 539.18,371.00 539.60,375.50 C540.02,380.00 540.52,385.50 541.00,388.00 C541.48,390.50 541.97,390.42 542.50,390.50 C543.03,390.58 543.67,387.87 544.20,388.50 C544.73,389.13 545.12,391.95 545.70,394.30 C546.28,396.65 547.02,400.45 547.70,402.60 C548.38,404.75 549.10,406.57 549.80,407.20 C550.50,407.83 551.20,405.95 551.90,406.40 C552.60,406.85 553.23,408.72 554.00,409.90 C554.77,411.08 555.70,414.02 556.50,413.50 C557.30,412.98 558.07,409.23 558.80,406.80 C559.53,404.37 560.30,400.63 560.90,398.90 C561.50,397.17 561.88,396.13 562.40,396.40 C562.92,396.67 563.48,398.77 564.00,400.50 C564.52,402.23 564.90,404.88 565.50,406.80 C566.10,408.72 566.90,410.27 567.60,412.00 C568.30,413.73 569.00,415.45 569.70,417.20 C570.40,418.95 571.12,421.45 571.80,422.50 C572.48,423.55 573.05,423.68 573.80,423.50 C574.55,423.32 575.42,421.57 576.30,421.40 C577.18,421.23 578.18,421.97 579.10,422.50 C580.02,423.03 580.87,423.92 581.80,424.60 C582.73,425.28 583.87,426.50 584.70,426.60 C585.53,426.70 586.10,425.72 586.80,425.20 C587.50,424.68 588.20,423.85 588.90,423.50 C589.60,423.15 590.38,422.92 591.00,423.10 C591.62,423.28 592.15,423.83 592.60,424.60 C593.05,425.37 593.35,425.63 593.70,427.70 C594.05,429.77 594.53,435.45 594.70,437.00" fill="none" stroke="#aa0f19" class="cv"/>
<line x1="339.70" y1="437.40" x2="339.70" y2="441.40" class="tk"/>
<text x="339.70" y="449.60" class="tl" text-anchor="middle">0</text>
<line x1="352.46" y1="437.40" x2="352.46" y2="439.60" class="tk"/>
<line x1="365.22" y1="437.40" x2="365.22" y2="441.40" class="tk"/>
<text x="365.22" y="449.60" class="tl" text-anchor="middle">1</text>
<line x1="377.98" y1="437.40" x2="377.98" y2="439.60" class="tk"/>
<line x1="390.74" y1="437.40" x2="390.74" y2="441.40" class="tk"/>
<text x="390.74" y="449.60" class="tl" text-anchor="middle">2</text>
<line x1="403.50" y1="437.40" x2="403.50" y2="439.60" class="tk"/>
<line x1="416.26" y1="437.40" x2="416.26" y2="441.40" class="tk"/>
<text x="416.26" y="449.60" class="tl" text-anchor="middle">3</text>
<line x1="429.02" y1="437.40" x2="429.02" y2="439.60" class="tk"/>
<line x1="441.78" y1="437.40" x2="441.78" y2="441.40" class="tk"/>
<text x="441.78" y="449.60" class="tl" text-anchor="middle">4</text>
<line x1="454.54" y1="437.40" x2="454.54" y2="439.60" class="tk"/>
<line x1="467.30" y1="437.40" x2="467.30" y2="441.40" class="tk"/>
<text x="467.30" y="449.60" class="tl" text-anchor="middle">5</text>
<line x1="480.06" y1="437.40" x2="480.06" y2="439.60" class="tk"/>
<line x1="492.82" y1="437.40" x2="492.82" y2="441.40" class="tk"/>
<text x="492.82" y="449.60" class="tl" text-anchor="middle">6</text>
<line x1="505.58" y1="437.40" x2="505.58" y2="439.60" class="tk"/>
<line x1="518.34" y1="437.40" x2="518.34" y2="441.40" class="tk"/>
<text x="518.34" y="449.60" class="tl" text-anchor="middle">7</text>
<line x1="531.10" y1="437.40" x2="531.10" y2="439.60" class="tk"/>
<line x1="543.86" y1="437.40" x2="543.86" y2="441.40" class="tk"/>
<text x="543.86" y="449.60" class="tl" text-anchor="middle">8</text>
<line x1="556.62" y1="437.40" x2="556.62" y2="439.60" class="tk"/>
<line x1="569.38" y1="437.40" x2="569.38" y2="441.40" class="tk"/>
<text x="569.38" y="449.60" class="tl" text-anchor="middle">9</text>
<line x1="582.14" y1="437.40" x2="582.14" y2="439.60" class="tk"/>
<line x1="594.90" y1="437.40" x2="594.90" y2="441.40" class="tk"/>
<text x="594.90" y="449.60" class="tl" text-anchor="middle">10</text>
<line x1="339.70" y1="437.40" x2="335.70" y2="437.40" class="tk"/>
<text x="332.85" y="439.85" class="tl" text-anchor="end">0.0</text>
<line x1="339.70" y1="421.52" x2="337.50" y2="421.52" class="tk"/>
<line x1="339.70" y1="405.65" x2="335.70" y2="405.65" class="tk"/>
<text x="332.85" y="408.10" class="tl" text-anchor="end">0.1</text>
<line x1="339.70" y1="389.77" x2="337.50" y2="389.77" class="tk"/>
<line x1="339.70" y1="373.90" x2="335.70" y2="373.90" class="tk"/>
<text x="332.85" y="376.35" class="tl" text-anchor="end">0.2</text>
<line x1="339.70" y1="358.02" x2="337.50" y2="358.02" class="tk"/>
<line x1="339.70" y1="342.15" x2="335.70" y2="342.15" class="tk"/>
<text x="332.85" y="344.60" class="tl" text-anchor="end">0.3</text>
<line x1="339.70" y1="326.27" x2="337.50" y2="326.27" class="tk"/>
<line x1="339.70" y1="310.40" x2="335.70" y2="310.40" class="tk"/>
<text x="332.85" y="312.85" class="tl" text-anchor="end">0.4</text>
<line x1="339.70" y1="294.52" x2="337.50" y2="294.52" class="tk"/>
<line x1="339.70" y1="278.65" x2="335.70" y2="278.65" class="tk"/>
<text x="332.85" y="281.10" class="tl" text-anchor="end">0.5</text>
<line x1="339.70" y1="262.77" x2="337.50" y2="262.77" class="tk"/>
<line x1="339.70" y1="246.90" x2="335.70" y2="246.90" class="tk"/>
<text x="332.85" y="249.35" class="tl" text-anchor="end">0.6</text>
<path d="M339.70,246.90 H594.90 V437.40 H339.70 Z" class="fr"/>
<line x1="240.5" y1="18.6" x2="261" y2="18.6" stroke="#2f6a6c" class="lg"/>
<text x="263.2" y="21.5" class="lt" textLength="17.4" lengthAdjust="spacingAndGlyphs">SiC</text>
<line x1="240.5" y1="33.5" x2="261" y2="33.5" stroke="#aa0f19" class="lg"/>
<text x="263.2" y="36.5" class="lt" textLength="21.6" lengthAdjust="spacingAndGlyphs">GeC</text>
<line x1="544.6" y1="21" x2="565.2" y2="21" stroke="#2f6a6c" class="lg"/>
<text x="567.3" y="23.9" class="lt" textLength="17.4" lengthAdjust="spacingAndGlyphs">SiC</text>
<line x1="544.6" y1="35.8" x2="565.2" y2="35.8" stroke="#aa0f19" class="lg"/>
<text x="567.3" y="38.8" class="lt" textLength="21.6" lengthAdjust="spacingAndGlyphs">GeC</text>
<line x1="193.5" y1="256" x2="214.5" y2="256" stroke="#2f6a6c" class="lg"/>
<text x="216.8" y="258.9" class="lt" textLength="17.4" lengthAdjust="spacingAndGlyphs">SiC</text>
<line x1="193.5" y1="270.9" x2="214.5" y2="270.9" stroke="#aa0f19" class="lg"/>
<text x="216.8" y="273.9" class="lt" textLength="21.6" lengthAdjust="spacingAndGlyphs">GeC</text>
<line x1="542.9" y1="259" x2="563.6" y2="259" stroke="#2f6a6c" class="lg"/>
<text x="565.7" y="262.1" class="lt" textLength="17.4" lengthAdjust="spacingAndGlyphs">SiC</text>
<line x1="542.9" y1="274" x2="563.6" y2="274" stroke="#aa0f19" class="lg"/>
<text x="565.7" y="277.2" class="lt" textLength="21.6" lengthAdjust="spacingAndGlyphs">GeC</text>
<circle cx="94.4" cy="304.7" r="0.8" fill="#c98a9c" opacity="0.8"/>
<text x="1.6" y="10.8" class="pl">a)</text>
<text x="309" y="11.2" class="pl">b)</text>
<text x="4.2" y="240.5" class="pl">c)</text>
<text x="312" y="242.7" class="pl">d)</text>
<text x="156.6" y="221.2" class="at" text-anchor="middle">Energy (eV)</text>
<text x="469.9" y="224.2" class="at" text-anchor="middle">Energy (eV)</text>
<text x="159.3" y="463.6" class="at" text-anchor="middle">Energy (eV)</text>
<text x="466.8" y="461.7" class="at" text-anchor="middle">Energy (eV)</text>
<text transform="translate(11.3,151.6) rotate(-90)" x="0" y="0" class="yt" style="font-size:11px" textLength="92.6" lengthAdjust="spacingAndGlyphs">Refraction index[n]</text>
<text transform="translate(319.8,152.3) rotate(-90)" x="0" y="0" class="yt" style="font-size:11px" textLength="85.6" lengthAdjust="spacingAndGlyphs">Extinction index [k]</text>
<text transform="translate(17.5,354.6) rotate(-90)" x="0" y="0" class="yt" style="font-size:11.8px" textLength="18.6" lengthAdjust="spacingAndGlyphs">ELF</text>
<text transform="translate(315.4,378.0) rotate(-90)" x="0" y="0" class="yt" style="font-size:11.5px" textLength="52.2" lengthAdjust="spacingAndGlyphs">Reflectivity</text>
</svg>
</body></html>
